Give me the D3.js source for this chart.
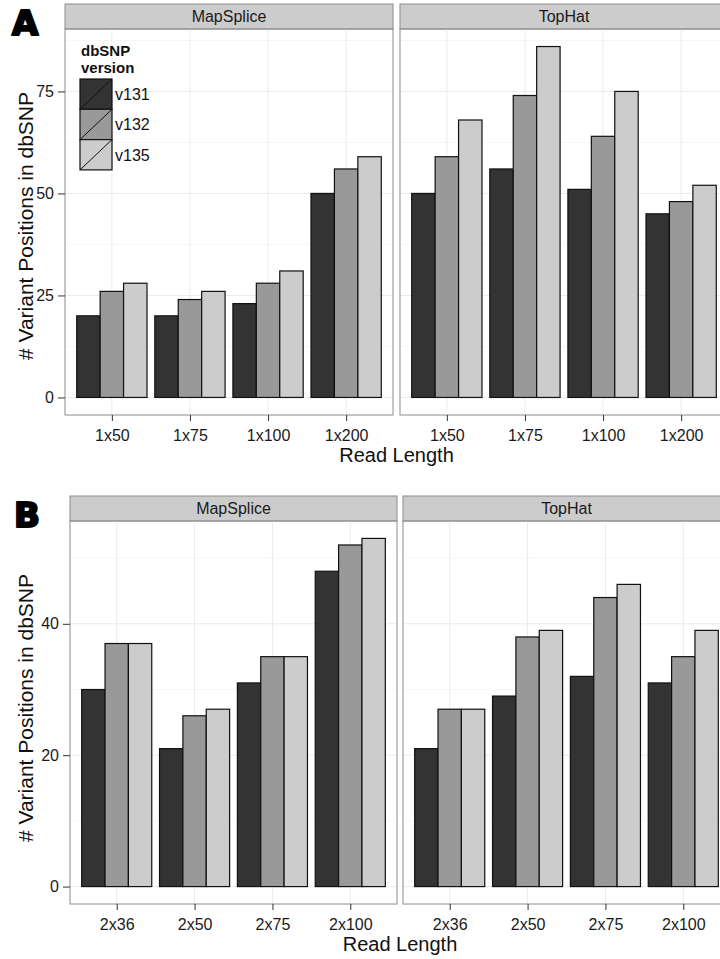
<!DOCTYPE html>
<html>
<head>
<meta charset="utf-8">
<script src="https://cdn.jsdelivr.net/npm/d3@7"></script>
<style>
  body { margin: 0; background: #fff; }
  text { font-family: "Liberation Sans", Arial, sans-serif; }
</style>
</head>
<body>
<svg id="chart" width="720" height="959"></svg>
<script>
// dbSNP versions (fill groups) and aligners (facets)
var versions = ["v131", "v132", "v135"];
var methods = ["MapSplice", "TopHat"];

// panel A: single-end read lengths
var lengthsA = ["1x50", "1x75", "1x100", "1x200"];
var mapspliceA = [[20, 26, 28], [20, 24, 26], [23, 28, 31], [50, 56, 59]];
var tophatA = [[50, 59, 68], [56, 74, 86], [51, 64, 75], [45, 48, 52]];
var ticksA = [0, 25, 50, 75];
var minorA = [12.5, 37.5, 62.5, 87.5];

// panel B: paired-end read lengths
var lengthsB = ["2x36", "2x50", "2x75", "2x100"];
var mapspliceB = [[30, 37, 37], [21, 26, 27], [31, 35, 35], [48, 52, 53]];
var tophatB = [[21, 27, 27], [29, 38, 39], [32, 44, 46], [31, 35, 39]];
var ticksB = [0, 20, 40];
var minorB = [10, 30, 50];

var svg = d3.select("#chart");
svg.append("rect").attr("width", 720).attr("height", 959).attr("fill", "#fff");

var fill = d3.scaleOrdinal().domain(versions).range(["#333333", "#999999", "#cccccc"]);

function drawFigure(o) {
    var g = svg.append("g");
    var stripH = 25;
    var plotTop = o.top + stripH;

    // shared y scale with ggplot style 5% expansion
    var ymax = d3.max(o.values, function (p) { return d3.max(p, function (r) { return d3.max(r); }); });
    var y = d3.scaleLinear()
        .domain([-0.05 * ymax, ymax * 1.05])
        .range([o.bottom, plotTop]);

    o.panels.forEach(function (px, pi) {
        var x = d3.scalePoint().domain(o.lengths).range(px).padding(0.6);
        var step = x.step();
        var xs = d3.scaleBand().domain(versions).range([-0.45 * step, 0.45 * step]);
        var pg = g.append("g");

        // strip
        pg.append("rect")
            .attr("x", px[0]).attr("y", o.top)
            .attr("width", px[1] - px[0]).attr("height", stripH)
            .attr("fill", "#cccccc").attr("stroke", "#8c8c8c").attr("stroke-width", 1);
        pg.append("text")
            .attr("x", (px[0] + px[1]) / 2).attr("y", o.top + 18)
            .attr("text-anchor", "middle").attr("font-size", 16).attr("fill", "#1a1a1a")
            .text(methods[pi]);

        // grid
        pg.selectAll(".minor").data(o.minor).enter().append("line")
            .attr("x1", px[0]).attr("x2", px[1])
            .attr("y1", function (d) { return y(d); }).attr("y2", function (d) { return y(d); })
            .attr("stroke", "#f7f7f7").attr("stroke-width", 1);
        pg.selectAll(".major").data(o.ticks).enter().append("line")
            .attr("x1", px[0]).attr("x2", px[1])
            .attr("y1", function (d) { return y(d); }).attr("y2", function (d) { return y(d); })
            .attr("stroke", "#ebebeb").attr("stroke-width", 1);
        pg.selectAll(".vgrid").data(o.lengths).enter().append("line")
            .attr("x1", function (d) { return x(d); }).attr("x2", function (d) { return x(d); })
            .attr("y1", plotTop).attr("y2", o.bottom)
            .attr("stroke", "#ebebeb").attr("stroke-width", 1);

        // bars
        var groups = pg.selectAll(".grp").data(o.lengths).enter().append("g")
            .attr("transform", function (d) { return "translate(" + x(d) + ",0)"; });
        groups.selectAll("rect")
            .data(function (d, i) {
                return o.values[pi][i].map(function (v, j) { return { version: versions[j], value: v }; });
            })
            .enter().append("rect")
            .attr("x", function (d) { return xs(d.version); })
            .attr("width", xs.bandwidth())
            .attr("y", function (d) { return y(d.value); })
            .attr("height", function (d) { return y(0) - y(d.value); })
            .attr("fill", function (d) { return fill(d.version); })
            .attr("stroke", "#111").attr("stroke-width", 1.2);

        // panel border
        pg.append("rect")
            .attr("x", px[0]).attr("y", plotTop)
            .attr("width", px[1] - px[0]).attr("height", o.bottom - plotTop)
            .attr("fill", "none").attr("stroke", "#8c8c8c").attr("stroke-width", 1);

        // x axis
        var xa = pg.append("g")
            .attr("transform", "translate(0," + o.bottom + ")")
            .call(d3.axisBottom(x).tickSize(6).tickPadding(9));
        xa.select(".domain").remove();
        xa.selectAll("line").attr("stroke", "#333");
        xa.selectAll("text").attr("font-size", 16).attr("fill", "#1a1a1a")
            .style("font-family", "'Liberation Sans', Arial, sans-serif");

        // y axis on the first panel only
        if (pi === 0) {
            var ya = pg.append("g")
                .attr("transform", "translate(" + px[0] + ",0)")
                .call(d3.axisLeft(y).tickValues(o.ticks).tickSize(7).tickPadding(4));
            ya.select(".domain").remove();
            ya.selectAll("line").attr("stroke", "#333");
            ya.selectAll("text").attr("font-size", 16).attr("fill", "#1a1a1a")
                .style("font-family", "'Liberation Sans', Arial, sans-serif");
        }
    });

    // axis titles
    g.append("text")
        .attr("x", (o.panels[0][0] + o.panels[1][1]) / 2).attr("y", o.bottom + 47)
        .attr("text-anchor", "middle").attr("font-size", 20).attr("fill", "#111")
        .text("Read Length");
    g.append("text")
        .attr("transform", "translate(33," + o.titleY + ") rotate(-90)")
        .attr("text-anchor", "middle").attr("font-size", 21).attr("fill", "#111")
        .text("# Variant Positions in dbSNP");

    // panel letter
    g.append("text")
        .attr("x", o.letterX).attr("y", o.letterY)
        .attr("font-size", 34).attr("fill", "#000")
        .attr("stroke", "#000").attr("stroke-width", 2.2).attr("stroke-linejoin", "round")
        .style("font-family", "'DejaVu Sans', sans-serif").style("font-weight", "bold")
        .text(o.letter);
}

drawFigure({
    letter: "A", letterX: 12, letterY: 35,
    top: 4, bottom: 415,
    panels: [[65, 393], [400, 728]],
    lengths: lengthsA, values: [mapspliceA, tophatA],
    ticks: ticksA, minor: minorA, titleY: 226
});

drawFigure({
    letter: "B", letterX: 14, letterY: 527,
    top: 496, bottom: 904,
    panels: [[70, 397], [403, 730]],
    lengths: lengthsB, values: [mapspliceB, tophatB],
    ticks: ticksB, minor: minorB, titleY: 708
});

// legend inside the MapSplice panel of A
var leg = svg.append("g").attr("transform", "translate(80,45)");
leg.append("text").attr("x", 1).attr("y", 11).attr("font-size", 15).attr("font-weight", "bold")
    .attr("fill", "#111").text("dbSNP");
leg.append("text").attr("x", 1).attr("y", 28).attr("font-size", 15).attr("font-weight", "bold")
    .attr("fill", "#111").text("version");
var keyW = 32, keyH = 30.3;
var keys = leg.selectAll(".key").data(versions).enter().append("g")
    .attr("transform", function (d, i) { return "translate(0," + (34 + i * keyH) + ")"; });
keys.append("rect").attr("width", keyW).attr("height", keyH)
    .attr("fill", function (d) { return fill(d); })
    .attr("stroke", "#111").attr("stroke-width", 1.2);
keys.append("line").attr("x1", 0).attr("y1", keyH).attr("x2", keyW).attr("y2", 0)
    .attr("stroke", "#111").attr("stroke-width", 1);
keys.append("text").attr("x", keyW + 3).attr("y", keyH / 2 + 6)
    .attr("font-size", 16).attr("fill", "#111")
    .text(function (d) { return d; });
</script>
</body>
</html>
